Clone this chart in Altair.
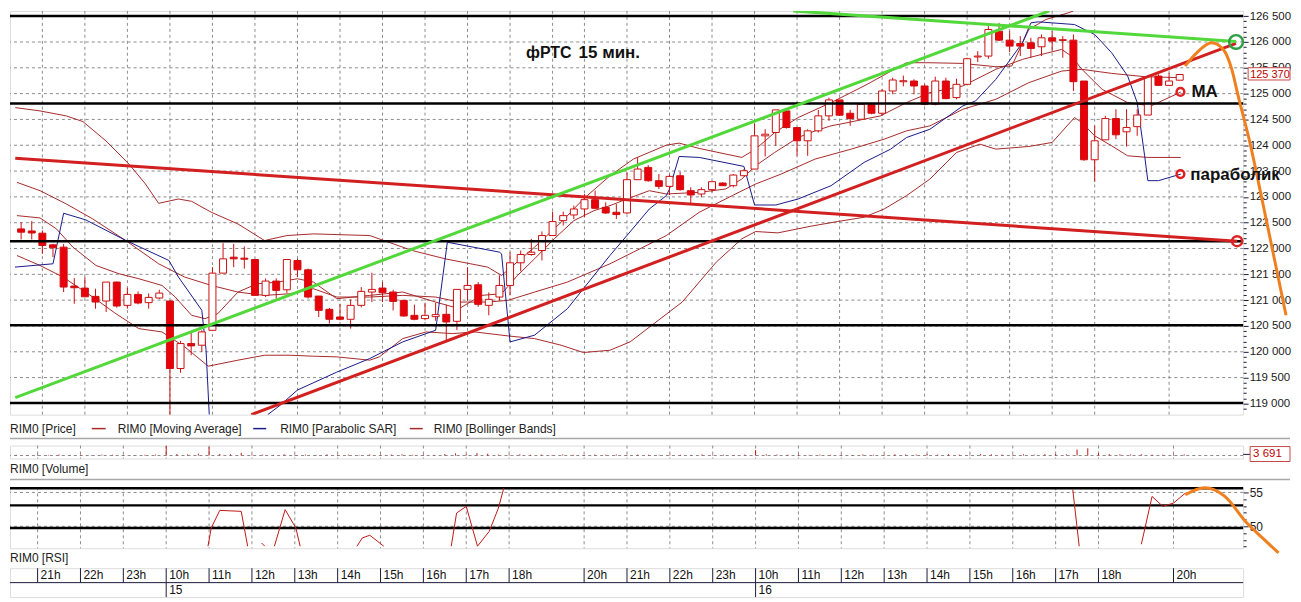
import altair as alt
import pandas as pd

# ---------------- data ----------------
# 15-minute bars, index 0 = 20:30 of the 14th
bar_index = list(range(110))
opens = [122380, 122340, 122297, 122071, 122026, 121272, 121233, 121073, 120983, 121350,
         120899, 121111, 120951, 121041, 120983, 119676, 120159, 120127, 120416, 121523,
         121832, 121813, 121787, 121092, 121369, 121201, 121768, 121588, 121079, 120822,
         120674, 120629, 120899, 121157, 121234, 121157, 120995, 120706, 120642, 120680,
         120725, 120590, 121208, 121298, 120899, 121060, 121285, 121723, 121884, 121961,
         122251, 122540, 122650, 122766, 122946, 122798, 122702, 122689, 123333, 123571,
         123313, 123204, 123410, 123120, 123056, 123140, 123268, 123217, 123410, 123539,
         124182, 124247, 124665, 124343, 124086, 124279, 124569, 124878, 124620, 124504,
         124794, 124620, 125051, 125230, 125244, 125148, 124794, 125244, 124923, 125180,
         125710, 125727, 126210, 126036, 125971, 125984, 125907, 126081, 126030, 126036,
         125244, 123719, 124105, 124517, 124260, 124360, 124585, 125340, 125160, 125260]
highs = [122509, 122530, 122350, 122090, 122090, 121427, 121446, 121221, 121350, 121360,
         121240, 121169, 121130, 121201, 120990, 120210, 120384, 120416, 121639, 122103,
         122090, 122040, 121800, 121420, 121420, 121787, 121800, 121610, 121080, 120850,
         120931, 121015, 121253, 121530, 121350, 121200, 120995, 120912, 120950, 120950,
         120912, 121208, 121639, 121350, 121150, 121480, 121929, 121961, 122186, 122330,
         122714, 122714, 122830, 123055, 123120, 122895, 122860, 123474, 123764, 123616,
         123442, 123430, 123487, 123185, 123185, 123294, 123282, 123442, 123539, 124427,
         124311, 124685, 124697, 124343, 124311, 124685, 124923, 124878, 124685, 124794,
         124826, 125084, 125309, 125350, 125277, 125180, 125328, 125309, 125289, 125694,
         125823, 126306, 126371, 126210, 126113, 126081, 126145, 126210, 126113, 126145,
         125244, 124375, 124569, 124697, 124697, 124697, 125328, 125373, 125405, 125373]
lows = [122175, 122175, 121898, 121834, 121156, 120931, 121060, 120834, 120770, 120854,
        120835, 120918, 120835, 121020, 118782, 119592, 119933, 119998, 120416, 121523,
        121639, 121610, 121092, 121060, 121028, 121140, 121446, 121030, 120674, 120545,
        120610, 120448, 120860, 120963, 120963, 120802, 120680, 120610, 120610, 120600,
        120223, 120420, 120990, 120870, 120706, 120990, 121092, 121560, 121860, 121768,
        122251, 122445, 122570, 122604, 122765, 122670, 122573, 122670, 123333, 123294,
        123152, 123036, 123120, 122863, 122992, 123088, 123217, 123185, 123397, 123539,
        123783, 123989, 124324, 123796, 123796, 124247, 124472, 124569, 124376, 124504,
        124601, 124569, 124987, 125140, 124987, 124774, 124774, 124890, 124890, 125180,
        125611, 125676, 126017, 125804, 125727, 125695, 125727, 125823, 125695, 125051,
        123700, 123294, 124105, 124118, 123976, 124182, 124585, 125148, 125148, 125260]
closes = [122316, 122300, 122059, 122014, 121253, 121240, 121065, 120963, 121350, 120886,
          121111, 120944, 121053, 121137, 119676, 120159, 120114, 120384, 121523, 121800,
          121800, 121793, 121092, 121369, 121189, 121787, 121588, 121060, 120802, 120629,
          120629, 120899, 121169, 121208, 121144, 120976, 120693, 120629, 120706, 120720,
          120577, 121208, 121285, 120918, 121015, 121285, 121723, 121884, 121929, 122251,
          122521, 122637, 122766, 122946, 122779, 122688, 122657, 123333, 123539, 123313,
          123204, 123397, 123140, 123037, 123140, 123294, 123217, 123423, 123506, 124182,
          124214, 124685, 124343, 124086, 124279, 124569, 124878, 124582, 124517, 124794,
          124620, 125051, 125264, 125250, 125148, 124794, 125244, 124903, 125180, 125676,
          125727, 126242, 126036, 125920, 125920, 125875, 126081, 126017, 126045, 125231,
          123719, 124086, 124517, 124202, 124345, 124585, 125328, 125160, 125244, 125370]
volumes = [2500, 1500, 3000, 2000, 3500, 2000, 2500, 1500, 3000, 2500,
           2000, 1500, 2500, 3000, 32000, 5000, 4000, 6000, 28000, 5000,
           4000, 9000, 3000, 3000, 2000, 4000, 2500, 3000, 2000, 3500,
           2500, 3000, 2000, 3500, 2500, 3000, 4000, 2500, 3000, 2000,
           5000, 7000, 4000, 8000, 6000, 3000, 3000, 4000, 2500, 3000,
           2000, 3500, 2500, 2000, 3000, 2500, 3500, 2000, 3000, 2500,
           2000, 3000, 2500, 2000, 3500, 2500, 3000, 2000, 3000, 18000,
           4000, 3000, 2500, 3500, 2000, 3000, 2500, 3000, 2000, 3500,
           2500, 3000, 4000, 3500, 3000, 5000, 3000, 4500, 3000, 2500,
           5000, 4000, 3000, 2500, 4000, 3000, 4500, 5000, 4000, 20000,
           24000, 8000, 5000, 4000, 3500, 4000, 3000, 2500, 3000, 3691]

# indicator lines (bar position, price); lines end where they leave the panel
bb_up_k = [-0.55, 1.78, 4.26, 5.81, 7.98, 10.15, 11.7, 12.94, 14.8, 16.04, 17.9, 20.4, 22.9, 25.0,
           27.5, 32.8, 36.8, 39.9, 43.9, 45.2, 48.3, 50.8, 52.9, 55.4, 57.6, 60.7, 61.9, 63.8, 67.8,
           69.1, 70.9, 73.1, 76.2, 79.3, 83.3, 85.5, 88.6, 91.7, 93.2, 94.8, 96.4, 98.5, 99.0]
bb_up_v = [124729, 124665, 124568, 124459, 124085, 123635, 123249, 122875, 122959, 122914, 122701,
           122476, 122154, 122251, 122283, 122251, 121961, 121800, 121639, 121478, 122025, 122508,
           122959, 123409, 123732, 124002, 124041, 123938, 123764, 123925, 124247, 124536, 124826,
           125148, 125599, 125598, 125585, 125521, 125534, 126242, 126435, 126564, 126600]
bb_mid_k = [-0.39, 1.78, 4.26, 6.74, 9.84, 12.94, 15.4, 17.9, 20.4, 22.9, 25.3, 27.5, 29.7, 32.8,
            35.9, 39.0, 41.2, 43.9, 45.8, 48.3, 51.4, 55.4, 57.6, 60.7, 63.8, 66.9, 69.1, 71.5, 74.7,
            78.1, 81.2, 83.3, 85.5, 88.6, 91.7, 94.8, 97.9, 99.8, 102.6, 105.7, 109.1]
bb_mid_v = [123281, 123120, 122862, 122573, 122154, 121704, 121446, 121285, 121156, 121092, 121124,
            121221, 121060, 121060, 121092, 121060, 120963, 120963, 120996, 121156, 121350, 121704,
            121930, 122251, 122702, 123024, 123249, 123442, 123732, 123925, 124118, 124279, 124375,
            124697, 124890, 125212, 125437, 125470, 125392, 125328, 125309]
bb_low_k = [-0.39, 1.78, 3.95, 6.74, 8.91, 11.08, 13.25, 15.4, 17.6, 20.4, 22.9, 25.3, 27.5, 29.7,
            32.8, 33.7, 35.9, 38.1, 40.6, 42.7, 45.8, 48.3, 50.8, 52.9, 55.4, 57.3, 62.2, 65.4, 67.8,
            69.1, 71.2, 74.3, 76.8, 79.3, 81.2, 83.3, 85.5, 88.0, 90.2, 91.7, 94.8, 97.0, 99.1, 99.8,
            101.0, 102.6, 104.1, 106.0, 109.1]
bb_low_v = [121864, 121671, 121446, 121060, 120738, 120448, 120384, 120094, 119721, 119837, 119933,
            119933, 119914, 119901, 119837, 119901, 120255, 120384, 120352, 120384, 120307, 120255,
            120127, 119985, 120030, 120192, 120964, 121736, 122187, 122329, 122303, 122432, 122522,
            122605, 122766, 123024, 123345, 123860, 124021, 123925, 123976, 124054, 124536, 124440,
            124182, 123989, 123796, 123764, 123764]
ma_k = [-0.39, 1.78, 3.33, 4.88, 7.05, 9.22, 11.08, 13.25, 14.5, 16.04, 17.3, 18.5, 20.4, 22.2, 24.1,
        26.0, 27.5, 29.7, 32.8, 35.9, 39.0, 41.2, 43.3, 45.2, 46.7, 48.3, 50.15, 52.0, 53.9, 55.4,
        57.0, 59.1, 60.7, 63.8, 66.3, 67.8, 69.1, 70.9, 73.1, 74.7, 76.2, 77.8, 79.3, 80.85, 83.3,
        85.5, 88.6, 91.7, 94.2, 96.0, 97.9, 98.8, 99.8, 101.7, 104.1, 106.3, 109.1]
ma_v = [122637, 122592, 122379, 122025, 121671, 121510, 121414, 121285, 121060, 120706, 120641,
        120738, 121156, 121317, 121349, 121414, 121350, 121028, 121092, 121157, 120963, 120835,
        121092, 121124, 121478, 121800, 122187, 122540, 122734, 122830, 122959, 123120, 123056,
        123088, 123153, 123346, 123603, 123861, 124150, 124279, 124376, 124440, 124504, 124569,
        124826, 125019, 125148, 125470, 125663, 125759, 125856, 125727, 125470, 125083, 124826,
        124762, 125030]
sar1_k = [-0.577, 3.0, 4.0, 6.1, 9.8, 13.9, 14.8, 17.0, 17.4, 17.7]
sar1_v = [121640, 121704, 122683, 122553, 122161, 121769, 121447, 120804, 120037, 118782]
sar2_k = [23.2, 24.4, 26.0, 29.7, 32.8, 35.9, 39.0, 40.1, 45.0, 45.2, 46.0, 48.3, 51.4, 52.9, 55.4,
          57.0, 59.1, 60.7, 61.0, 61.9, 63.8, 68.0, 69.0, 71.0, 73.1, 76.2, 79.3, 81.8, 83.3, 85.5,
          88.6, 89.8, 91.7, 93.3, 94.2, 95.0, 95.7, 99.1, 101.0, 102.6, 104.1, 105.0, 105.7, 106.0,
          107.0, 109.1]
sar2_v = [118782, 118969, 119259, 119606, 119869, 120191, 120417, 122122, 121930, 121896, 120191,
          120321, 120835, 121221, 121866, 122252, 122765, 123024, 123152, 123783, 123764, 123590,
          122843, 122843, 122959, 123217, 123667, 123924, 124150, 124310, 124762, 124859, 125276,
          125728, 125984, 126371, 126390, 126338, 126145, 125791, 125341, 124826, 123797, 123314,
          123314, 123441]

# hand-drawn objects (straight lines given by the points where they are seen to start and end)
level_lines = [126505, 124810, 122140, 120515, 119010]
red_trend = [("red_down", -0.55, 123750), ("red_down", 114.4, 122142),
             ("red_up", 21.66, 118782), ("red_up", 114.3, 125975)]
green_trend = [("green_up", -0.55, 119110), ("green_up", 96.74, 126602),
               ("green_down", 72.64, 126602), ("green_down", 114.3, 126010)]
orange_k = [109.5, 110.6, 112.0, 113.1, 113.9, 114.5, 115.6, 116.8, 118.1, 119.0]
orange_v = [125534, 125791, 125984, 125855, 125469, 124955, 124053, 122895, 121607, 120707]
rings = [(109.07, 125032, "#e02020", 60), (109.07, 123441, "#e02020", 60),
         (114.4, 122142, "#e02020", 100), (114.3, 126000, "#2ea043", 190)]
notes = [(47.5, 125791, "фРТС", 16), (52.45, 125791, "15 мин.", 17),
         (110.1, 125038, "MA", 17), (110.0, 123416, "параболик", 17)]
last_price = 125370
last_volume = 3691

# RSI (bar position, value), pieces visible inside the panel
rsi_pieces = [
    (1, [17.9, 18.2, 19.0, 21.0, 21.6], [47.06, 49.75, 52.35, 52.21, 47.06]),
    (2, [22.9, 23.2], [47.54, 47.06]),
    (3, [24.1, 25.1, 26.1, 26.5], [47.06, 52.46, 49.75, 47.06]),
    (4, [31.8, 32.3, 33.0, 34.3], [47.06, 48.28, 48.68, 47.06]),
    (5, [40.6, 41.1, 42.0, 43.05, 44.15, 45.0, 45.5], [47.06, 51.96, 52.94, 47.06, 49.26, 52.69, 55.63]),
    (6, [98.6, 99.2], [55.4, 47.06]),
    (7, [105.0, 106.0, 107.0, 108.0, 109.1], [47.35, 54.41, 52.94, 53.43, 54.9]),
]
rsi_orange_k = [109.1, 110.9, 112.8, 114.7, 116.3, 117.8]
rsi_orange_v = [54.66, 55.7, 54.41, 50.74, 48.28, 46.07]
rsi_levels = [55.63, 53.09, 49.75]
rsi_grid = [50, 55]
rsi_ticks = [47, 48, 49, 50, 51, 52, 53, 54, 55]

# time axis
grid_main_k = [2, 6, 10, 14, 18, 22, 26, 30, 34, 38, 42, 46, 50, 53, 57, 61, 65, 69, 73, 77, 81, 85,
               89, 93, 97, 101, 108]
hour_k = [2, 6, 10, 14, 18, 22, 26, 30, 34, 38, 42, 46, 53, 57, 61, 65, 69, 73, 77, 81, 85, 89, 93,
          97, 101, 108]
hour_labels = ["21h", "22h", "23h", "10h", "11h", "12h", "13h", "14h", "15h", "16h", "17h", "18h",
               "20h", "21h", "22h", "23h", "10h", "11h", "12h", "13h", "14h", "15h", "16h", "17h",
               "18h", "20h"]
day_k = [14, 69]
day_labels = ["15", "16"]
price_grid = [119000, 119500, 120000, 120500, 121000, 121500, 122000, 122500, 123000, 123500,
              124000, 124500, 125000, 125500, 126000, 126500]
price_ticks = list(range(118900, 126501, 100))

# ---------------- styling ----------------
XDOM = [-0.577, 114.5]
W = 1237
FONT = "Liberation Sans, Arial, sans-serif"
FRAME = "#1c1c3c"
GRIDC = "#8c8c8c"
RED = "#e8000b"
WICK = "#cc1010"
IND = "#a82a2a"
SARC = "#1a1a8c"


def xq(field="k"):
    return alt.X(f"{field}:Q", scale=alt.Scale(domain=XDOM, nice=False, zero=False), axis=None)


pscale = alt.Scale(domain=[118782, 126602], nice=False, zero=False)
main_axis = alt.Axis(orient="right", values=price_ticks,
                     labelExpr="datum.value % 500 === 0 ? replace(format(datum.value, ','), ',', ' ') : ''",
                     tickSize={"condition": {"test": "datum.value % 500 === 0", "value": 5}, "value": 3},
                     tickColor=FRAME, domain=False, grid=False, labelFont=FONT, labelFontSize=11.5,
                     labelColor="#1a1a1a", labelPadding=1, labelOverlap=False, labelBound=False,
                     title=None)


def py(field="v"):
    return alt.Y(f"{field}:Q", scale=pscale, axis=main_axis)


def series(name, ks, vs):
    return [{"name": name, "k": a, "v": b} for a, b in zip(ks, vs)]


# ---------------- main price panel ----------------
hgrid = alt.Chart(pd.DataFrame({"v": price_grid})).mark_rule(
    color=GRIDC, strokeDash=[3, 3], strokeWidth=1).encode(y=py())
vgrid = alt.Chart(pd.DataFrame({"k": grid_main_k})).mark_rule(
    color=GRIDC, strokeDash=[3, 3], strokeWidth=1).encode(x=xq())

ind_df = pd.DataFrame(series("up", bb_up_k, bb_up_v) + series("mid", bb_mid_k, bb_mid_v)
                      + series("low", bb_low_k, bb_low_v) + series("ma", ma_k, ma_v))
ind = alt.Chart(ind_df).mark_line(clip=True, strokeWidth=1, color=IND).encode(
    x=xq(), y=py(), detail="name:N")
sar_df = pd.DataFrame(series("s1", sar1_k, sar1_v) + series("s2", sar2_k, sar2_v))
sar = alt.Chart(sar_df).mark_line(clip=True, strokeWidth=1, color=SARC).encode(
    x=xq(), y=py(), detail="name:N")

cdf = pd.DataFrame({"k": bar_index, "o": opens, "h": highs, "l": lows, "c": closes})
wick = alt.Chart(cdf).mark_rule(clip=True, color=WICK, strokeWidth=1).encode(
    x=xq(), y=py("l"), y2="h:Q")
body = alt.Chart(cdf).mark_bar(size=7, clip=True, stroke=WICK, strokeWidth=1).encode(
    x=xq(), y=py("o"), y2="c:Q",
    fill=alt.condition("datum.o > datum.c", alt.value(RED), alt.value("#ffffff")))

levels = alt.Chart(pd.DataFrame({"v": level_lines})).mark_rule(
    color="#000000", strokeWidth=2.5).encode(y=py())
red_tr = alt.Chart(pd.DataFrame(red_trend, columns=["name", "k", "v"])).mark_line(
    clip=True, strokeWidth=3, color="#d21f1f").encode(x=xq(), y=py(), detail="name:N")
green_tr = alt.Chart(pd.DataFrame(green_trend, columns=["name", "k", "v"])).mark_line(
    clip=True, strokeWidth=3, color="#52d83a").encode(x=xq(), y=py(), detail="name:N")
orange = alt.Chart(pd.DataFrame({"k": orange_k, "v": orange_v})).mark_line(
    clip=False, strokeWidth=3, color="#f07f1e", interpolate="monotone").encode(x=xq(), y=py())
ring_layer = alt.Chart(pd.DataFrame(rings, columns=["k", "v", "col", "sz"])).mark_point(
    filled=False, shape="circle", strokeWidth=2.5, clip=False, opacity=1).encode(
    x=xq(), y=py(), color=alt.Color("col:N", scale=None), size=alt.Size("sz:Q", scale=None))
note_layer = alt.Chart(pd.DataFrame(notes, columns=["k", "v", "label", "fs"])).mark_text(
    align="left", baseline="middle", font=FONT, fontWeight="bold", color="#111111", clip=False).encode(
    x=xq(), y=py(), text="label:N", size=alt.Size("fs:Q", scale=None))

lp = pd.DataFrame({"v": [last_price], "top": [last_price + 132], "bot": [last_price - 106],
                   "label": ["125 370"]})
lp_box = alt.Chart(lp).mark_rect(fill="#ffffff", stroke="#c84848", strokeWidth=1, clip=False).encode(
    x=alt.value(1242), x2=alt.value(1284), y=py("top"), y2="bot:Q")
lp_text = alt.Chart(lp).mark_text(align="left", baseline="middle", font=FONT, fontSize=11,
                                  color="#c00000", clip=False).encode(
    x=alt.value(1244), y=py(), text="label:N")

main = alt.layer(hgrid, vgrid, ind, sar, wick, body, levels, red_tr, green_tr, orange,
                 ring_layer, note_layer, lp_box, lp_text).properties(width=W, height=405)

# ---------------- text rows ----------------
sep = pd.DataFrame({"x1": [0], "x2": [1284]})


def text_row(df, sep_y=None):
    t = alt.Chart(df).mark_text(align="left", baseline="middle", font=FONT, fontSize=12,
                                color="#222222").encode(
        x=alt.X("px:Q", scale=None), y=alt.Y("py:Q", scale=None), text="label:N")
    layers = [t]
    if sep_y is not None:
        layers.append(alt.Chart(sep).mark_rule(color="#a8a8a8", strokeWidth=1.5).encode(
            x=alt.X("x1:Q", scale=None), x2="x2:Q", y=alt.value(sep_y)))
    return layers


leg_text = pd.DataFrame({"px": [0, 108, 271, 425], "py": [14, 14, 14, 14],
                         "label": ["RIM0 [Price]", "RIM0 [Moving Average]", "RIM0 [Parabolic SAR]",
                                   "RIM0 [Bollinger Bands]"]})
leg_dash = pd.DataFrame({"px1": [82, 244, 401], "px2": [96, 257, 414], "py": [14, 14, 14],
                         "col": [IND, SARC, IND]})
ld = alt.Chart(leg_dash).mark_rule(strokeWidth=1.5).encode(
    x=alt.X("px1:Q", scale=None), x2="px2:Q", y=alt.Y("py:Q", scale=None),
    color=alt.Color("col:N", scale=None))
legend_row = alt.layer(*text_row(leg_text, 24), ld).properties(
    width=W, height=31, view=alt.ViewBackground(stroke=None))

# ---------------- volume panel ----------------
vscale = alt.Scale(domain=[-10000, 33000], nice=False, zero=False)
low_grid_k = [k for k in grid_main_k if k != 50]
v_vgrid = alt.Chart(pd.DataFrame({"k": low_grid_k})).mark_rule(
    color=GRIDC, strokeDash=[3, 3], strokeWidth=1).encode(x=xq())
v_base = alt.Chart(pd.DataFrame({"v": [0]})).mark_rule(
    color=GRIDC, strokeDash=[3, 3], strokeWidth=1).encode(y=alt.Y("v:Q", scale=vscale, axis=None))
vdf = pd.DataFrame({"k": bar_index, "vol": volumes})
v_bars = alt.Chart(vdf).mark_rule(color="#c01818", strokeWidth=1, clip=True).transform_calculate(
    zero="0").encode(x=xq(), y=alt.Y("zero:Q", scale=vscale, axis=None), y2="vol:Q")
vl = pd.DataFrame({"v": [last_volume], "label": ["3 691"]})
v_box = alt.Chart(vl).mark_rect(fill="#ffffff", stroke="#c84848", strokeWidth=1, clip=False).encode(
    x=alt.value(1244), x2=alt.value(1284), y=alt.value(1), y2=alt.value(16))
v_tick = alt.Chart(vl).mark_rule(color=FRAME, strokeWidth=1, clip=False).encode(
    x=alt.value(1237), x2=alt.value(1244), y=alt.Y("v:Q", scale=vscale, axis=None))
v_txt = alt.Chart(vl).mark_text(align="left", baseline="middle", font=FONT, fontSize=11.5,
                                color="#c00000", clip=False).encode(
    x=alt.value(1247), y=alt.value(8.5), text="label:N")
volume = alt.layer(v_vgrid, v_base, v_bars, v_tick, v_box, v_txt).properties(width=W, height=13)

vol_row = alt.layer(*text_row(pd.DataFrame({"px": [0], "py": [11], "label": ["RIM0 [Volume]"]}), 21)
                    ).properties(width=W, height=29, view=alt.ViewBackground(stroke=None))

# ---------------- RSI panel ----------------
rscale = alt.Scale(domain=[46.76, 55.74], nice=False, zero=False)
rsi_axis = alt.Axis(orient="right", values=rsi_ticks,
                    labelExpr="datum.value % 5 === 0 ? format(datum.value, 'd') : ''",
                    tickSize={"condition": {"test": "datum.value % 5 === 0", "value": 5}, "value": 3},
                    tickColor=FRAME, domain=False, grid=False, labelFont=FONT, labelFontSize=12,
                    labelColor="#1a1a1a", labelPadding=1, labelOverlap=False, labelBound=False,
                    title=None)


def ry(field="r"):
    return alt.Y(f"{field}:Q", scale=rscale, axis=rsi_axis)


r_hgrid = alt.Chart(pd.DataFrame({"r": rsi_grid})).mark_rule(
    color=GRIDC, strokeDash=[3, 3], strokeWidth=1).encode(y=ry())
r_vgrid = alt.Chart(pd.DataFrame({"k": low_grid_k})).mark_rule(
    color=GRIDC, strokeDash=[3, 3], strokeWidth=1).encode(x=xq())
r_levels = alt.Chart(pd.DataFrame({"r": rsi_levels})).mark_rule(
    color="#000000", strokeWidth=2.5).encode(y=ry())
rows = []
for seg, ks, vs in rsi_pieces:
    rows += [{"seg": seg, "k": a, "r": b} for a, b in zip(ks, vs)]
r_line = alt.Chart(pd.DataFrame(rows)).mark_line(clip=True, strokeWidth=1, color="#c01818").encode(
    x=xq(), y=ry(), detail="seg:N")
r_orange = alt.Chart(pd.DataFrame({"k": rsi_orange_k, "r": rsi_orange_v})).mark_line(
    clip=False, strokeWidth=3, color="#f07f1e", interpolate="monotone").encode(x=xq(), y=ry())
rsi = alt.layer(r_hgrid, r_vgrid, r_levels, r_line, r_orange).properties(width=W, height=61)

rsi_row = alt.layer(*text_row(pd.DataFrame({"px": [0], "py": [10], "label": ["RIM0 [RSI]"]}))
                    ).properties(width=W, height=20, view=alt.ViewBackground(stroke=None))

# ---------------- time table ----------------
tscale = alt.Scale(domain=[0, 2], nice=False, zero=False)


def ty(field):
    return alt.Y(f"{field}:Q", scale=tscale, axis=None)


hours_df = pd.DataFrame({"k": hour_k, "label": hour_labels, "y1": [1] * len(hour_k),
                         "y2": [2] * len(hour_k), "ym": [1.5] * len(hour_k)})
days_df = pd.DataFrame({"k": day_k, "label": day_labels, "y1": [0] * len(day_k),
                        "y2": [1] * len(day_k), "ym": [0.5] * len(day_k)})
t_mid = alt.Chart(pd.DataFrame({"y": [1]})).mark_rule(color=FRAME, strokeWidth=1).encode(y=ty("y"))
t_hsep = alt.Chart(hours_df).mark_rule(color=FRAME, strokeWidth=1).encode(
    x=xq(), y=ty("y1"), y2="y2:Q")
t_dsep = alt.Chart(days_df).mark_rule(color=FRAME, strokeWidth=1).encode(
    x=xq(), y=ty("y1"), y2="y2:Q")
t_htxt = alt.Chart(hours_df).mark_text(align="left", baseline="middle", dx=3, font=FONT,
                                       fontSize=12, color="#111111").encode(
    x=xq(), y=ty("ym"), text="label:N")
t_dtxt = alt.Chart(days_df).mark_text(align="left", baseline="middle", dx=3, font=FONT,
                                      fontSize=12, color="#111111").encode(
    x=xq(), y=ty("ym"), text="label:N")
table = alt.layer(t_mid, t_hsep, t_dsep, t_htxt, t_dtxt).properties(width=W, height=29)

chart = alt.vconcat(main, legend_row, volume, vol_row, rsi, rsi_row, table,
                    spacing=0, bounds="flush").resolve_scale(
    x="independent", y="independent").properties(padding=0).configure_view(
    stroke=FRAME, strokeWidth=1).configure(background="#ffffff")

chart.save("out.html", embed_options={"renderer": "svg", "actions": False})
